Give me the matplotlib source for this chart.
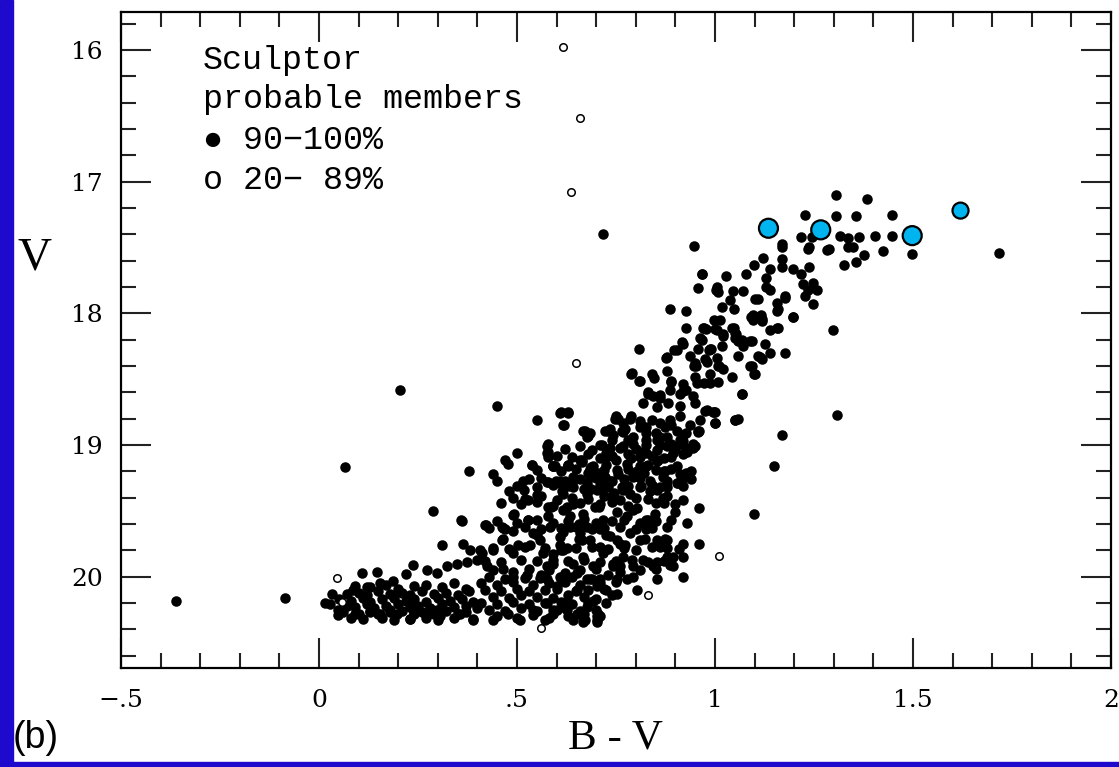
import numpy as np
import matplotlib
matplotlib.use("Agg")
import matplotlib.pyplot as plt
from matplotlib.patches import Rectangle
from matplotlib.ticker import MultipleLocator, FixedLocator, FixedFormatter

# Sculptor dSph colour-magnitude diagram, (B-V, V) pairs per region of the CMD

# bright tip of the giant branch
rgb_tip = [
    (1.306, 17.10), (1.385, 17.13), (1.227, 17.25), (1.306, 17.26), (1.356, 17.26),
    (1.446, 17.25), (1.216, 17.42), (1.244, 17.42), (1.316, 17.41), (1.337, 17.43),
    (1.364, 17.42), (1.404, 17.41), (1.446, 17.41), (1.168, 17.47), (1.168, 17.50),
    (1.238, 17.50), (1.288, 17.51), (1.337, 17.50), (1.349, 17.50), (1.376, 17.56),
    (1.423, 17.53), (1.497, 17.55), (1.716, 17.54), (1.327, 17.63), (1.356, 17.61),
    (1.120, 17.58), (1.098, 17.63), (1.139, 17.66), (1.168, 17.59), (1.168, 17.65),
    (1.198, 17.66), (1.216, 17.70), (1.238, 17.65), (1.235, 17.51), (1.284, 17.52),
]

# upper red giant branch
rgb_upper = [
    (1.128, 17.73), (1.130, 17.80), (1.139, 17.82), (1.177, 17.87), (1.223, 17.78),
    (1.248, 17.77), (1.236, 17.82), (1.257, 17.82), (1.227, 17.87), (1.248, 17.93),
    (1.101, 17.89), (1.109, 17.89), (1.156, 17.92), (1.156, 17.98), (1.097, 18.01),
    (1.118, 18.04), (1.118, 18.06), (1.198, 18.03), (1.139, 18.13), (1.156, 18.11),
    (1.297, 18.13), (1.093, 18.21), (1.126, 18.23), (1.139, 18.30), (1.177, 18.30),
    (1.109, 18.32), (1.118, 18.35), (1.093, 18.40), (1.101, 18.46), (1.078, 17.70),
    (1.027, 17.72), (0.968, 17.70), (0.958, 17.81), (1.006, 17.80), (1.008, 17.84),
    (1.046, 17.83), (1.071, 17.83), (1.038, 17.90), (1.017, 17.95), (1.013, 18.05),
    (1.048, 17.97), (1.097, 18.05), (0.886, 17.97), (0.927, 17.98), (0.927, 18.11),
    (0.970, 18.11), (0.977, 18.12), (1.004, 18.13), (1.021, 18.17), (1.042, 18.11),
    (1.050, 18.15), (1.050, 18.19), (1.059, 18.21), (1.088, 18.21), (1.071, 18.25),
    (0.809, 18.27), (0.878, 18.33), (0.903, 18.28), (0.920, 18.23), (0.937, 18.32),
    (0.958, 18.27), (0.987, 18.27), (0.949, 18.38), (0.975, 18.35), (1.004, 18.34),
    (1.008, 18.40), (1.021, 18.42), (1.059, 18.32), (1.088, 18.40), (1.098, 18.46),
    (0.789, 18.46), (0.840, 18.46), (0.846, 18.49), (0.880, 18.44), (0.987, 18.46),
    (1.042, 18.48), (1.003, 17.82), (0.971, 18.11), (1.000, 18.12), (0.916, 18.22),
    (0.962, 18.19), (0.991, 18.27), (0.875, 18.34), (0.897, 18.28), (0.790, 18.45),
    (0.947, 18.40), (1.092, 18.03), (1.115, 18.01), (1.067, 18.20), (1.054, 18.16),
    (1.019, 18.16), (0.966, 18.20), (0.985, 18.28), (1.017, 18.25), (0.979, 18.37),
    (1.011, 18.40), (0.953, 18.40), (1.049, 18.11), (0.997, 18.05), (1.176, 17.88),
    (1.160, 18.11), (1.196, 18.03), (1.158, 17.97), (1.113, 18.33),
]

# middle of the giant branch
rgb_mid = [
    (0.832, 18.61), (0.844, 18.63), (0.861, 18.62), (0.886, 18.58), (0.911, 18.61),
    (0.928, 18.58), (0.945, 18.63), (0.819, 18.68), (0.853, 18.71), (0.882, 18.68),
    (0.911, 18.70), (0.949, 18.68), (0.979, 18.73), (0.747, 18.80), (0.768, 18.83),
    (0.789, 18.78), (0.810, 18.82), (0.827, 18.86), (0.861, 18.83), (0.886, 18.81),
    (0.911, 18.78), (0.937, 18.85), (0.962, 18.81), (0.672, 18.89), (0.684, 18.91),
    (0.722, 18.89), (0.743, 18.92), (0.768, 18.90), (0.794, 18.94), (0.827, 18.91),
    (0.853, 18.96), (0.878, 18.94), (0.912, 18.96), (0.945, 18.99), (0.810, 18.51),
    (0.890, 18.52), (0.920, 18.54), (0.949, 18.48), (0.954, 18.53), (0.987, 18.53),
    (1.008, 18.52), (1.069, 18.61), (0.996, 18.75), (1.000, 18.83), (1.050, 18.81),
    (1.059, 18.80), (0.958, 18.90), (1.068, 18.61), (1.051, 18.81), (0.998, 18.75),
    (0.974, 18.74), (0.945, 19.02), (0.959, 18.89), (0.612, 18.75), (0.629, 18.75),
    (0.617, 18.85), (0.667, 18.89), (0.680, 18.93), (0.751, 18.78), (0.785, 18.80),
    (0.764, 18.89), (0.810, 18.86), (0.840, 18.81), (0.873, 18.86), (0.903, 18.89),
    (0.928, 18.91), (0.730, 18.89), (0.714, 19.00), (0.739, 18.96), (0.781, 18.96),
    (0.827, 18.96), (0.861, 18.94), (0.890, 18.99), (0.920, 18.97), (0.663, 19.11),
    (0.692, 19.16), (0.722, 19.09), (0.751, 19.11), (0.789, 19.10), (0.827, 19.06),
    (0.857, 19.11), (0.890, 19.09), (0.810, 19.16), (0.596, 19.16), (0.629, 19.16),
    (0.642, 19.24), (0.608, 19.29), (0.684, 19.24), (0.722, 19.24), (0.756, 19.22),
    (0.794, 19.24), (0.836, 19.27), (0.869, 19.24), (0.911, 19.22), (0.730, 19.32),
    (0.768, 19.34), (0.810, 19.32), (0.853, 19.34), (0.903, 19.29), (0.617, 19.37),
    (0.676, 19.37), (0.575, 19.01), (0.575, 19.06), (0.710, 19.00), (0.726, 19.06),
    (0.735, 19.02), (0.768, 19.01), (0.794, 18.99), (0.810, 19.05), (0.827, 19.00),
    (0.853, 19.04), (0.878, 19.01), (0.895, 19.06), (0.912, 18.99), (0.928, 19.02),
    (0.949, 19.01), (0.592, 19.16), (0.630, 19.15), (0.663, 19.13), (0.684, 19.18),
    (0.705, 19.21), (0.726, 19.15), (0.752, 19.19), (0.777, 19.14), (0.802, 19.20),
    (0.827, 19.16), (0.853, 19.12), (0.874, 19.20), (0.903, 19.16), (0.920, 19.23),
    (0.928, 19.21), (0.575, 19.28), (0.613, 19.35), (0.642, 19.32), (0.676, 19.29),
    (0.701, 19.34), (0.718, 19.29), (0.739, 19.39), (0.764, 19.32), (0.785, 19.37),
    (0.836, 19.35), (0.861, 19.32), (0.869, 19.40), (0.907, 19.29), (0.550, 18.81),
    (0.609, 18.76), (0.630, 18.76), (0.619, 18.85), (0.672, 18.90), (0.676, 18.94),
    (0.579, 18.99), (0.579, 19.05), (0.499, 19.06), (0.470, 19.11), (0.478, 19.14),
    (0.440, 19.22), (0.450, 19.27), (0.537, 19.15), (0.592, 19.16), (0.516, 19.27),
    (0.518, 19.34), (0.481, 19.35), (0.550, 19.38), (0.579, 19.28), (0.609, 19.27),
    (0.659, 19.11), (0.714, 19.34), (0.735, 19.27), (0.539, 19.15), (0.578, 19.09),
    (0.590, 19.16), (0.628, 19.15), (0.686, 19.17), (0.725, 19.09), (0.793, 19.23),
    (0.831, 19.15), (0.870, 19.20), (0.918, 19.25), (0.599, 19.27), (0.638, 19.28),
    (0.686, 19.33), (0.744, 19.36), (0.812, 19.31), (0.754, 18.80), (0.735, 18.88),
    (0.773, 18.88), (0.812, 18.85), (0.851, 18.91), (0.889, 18.85), (0.918, 18.92),
    (0.957, 18.89), (1.000, 18.83), (0.831, 18.60), (0.860, 18.64), (0.918, 18.59),
    (0.971, 18.53), (1.000, 18.75), (0.807, 18.51), (0.889, 18.51),
    (0.62, 19.03), (0.66, 19.01), (0.69, 19.04), (0.76, 19.02), (0.80, 19.03),
    (0.86, 19.00), (0.90, 19.03), (0.93, 19.05), (0.60, 19.08), (0.64, 19.09),
    (0.68, 19.07), (0.71, 19.10), (0.74, 19.08), (0.78, 19.07), (0.81, 19.09),
    (0.84, 19.08), (0.87, 19.10), (0.92, 19.07), (0.55, 19.19), (0.61, 19.20),
    (0.65, 19.18), (0.68, 19.21), (0.72, 19.19), (0.78, 19.18), (0.82, 19.21),
    (0.85, 19.19), (0.89, 19.18), (0.94, 19.20), (0.53, 19.26), (0.56, 19.25),
    (0.62, 19.27), (0.66, 19.26), (0.70, 19.25), (0.74, 19.27), (0.77, 19.26),
    (0.81, 19.25), (0.88, 19.27), (0.94, 19.26), (0.50, 19.31), (0.55, 19.32),
    (0.59, 19.30), (0.63, 19.31), (0.67, 19.33), (0.71, 19.30), (0.78, 19.31),
    (0.84, 19.30), (0.88, 19.32), (0.92, 19.31),
]

# lower giant branch and subgiants
rgb_lower = [
    (0.529, 19.42), (0.579, 19.47), (0.579, 19.54), (0.625, 19.47), (0.634, 19.54),
    (0.491, 19.53), (0.529, 19.57), (0.419, 19.61), (0.360, 19.58), (0.461, 19.62),
    (0.491, 19.65), (0.541, 19.67), (0.583, 19.62), (0.617, 19.66), (0.676, 19.62),
    (0.310, 19.76), (0.364, 19.75), (0.381, 19.80), (0.411, 19.82), (0.440, 19.80),
    (0.461, 19.72), (0.491, 19.82), (0.533, 19.76), (0.558, 19.72), (0.592, 19.83),
    (0.625, 19.78), (0.663, 19.72), (0.710, 19.77), (0.752, 19.72), (0.899, 19.51),
    (0.960, 19.48), (0.959, 19.75), (0.920, 19.75), (0.918, 20.00), (0.895, 19.85),
    (0.886, 19.91), (0.861, 19.77), (0.878, 19.72), (0.853, 19.89), (0.794, 19.92),
    (0.794, 20.00), (0.760, 19.92), (0.617, 19.49), (0.642, 19.45), (0.667, 19.52),
    (0.697, 19.47), (0.718, 19.57), (0.752, 19.51), (0.777, 19.54), (0.802, 19.48),
    (0.827, 19.57), (0.848, 19.52), (0.608, 19.70), (0.634, 19.62), (0.659, 19.67),
    (0.684, 19.72), (0.710, 19.64), (0.735, 19.69), (0.760, 19.75), (0.785, 19.67),
    (0.810, 19.72), (0.827, 19.64), (0.853, 19.72), (0.874, 19.71), (0.920, 19.85),
    (0.895, 19.92), (0.878, 19.85), (0.566, 19.82), (0.592, 19.87), (0.617, 19.80),
    (0.642, 19.90), (0.667, 19.85), (0.693, 19.92), (0.718, 19.82), (0.743, 19.90),
    (0.768, 19.85), (0.819, 19.87), (0.844, 19.92), (0.493, 19.52), (0.527, 19.57),
    (0.585, 19.47), (0.657, 19.60), (0.706, 19.47), (0.793, 19.49), (0.831, 19.57),
    (0.870, 19.44), (0.358, 19.57), (0.421, 19.61), (0.464, 19.63), (0.406, 19.80),
    (0.464, 19.71), (0.503, 19.76), (0.551, 19.68), (0.609, 19.76), (0.657, 19.71),
    (0.725, 19.68), (0.773, 19.76), (0.822, 19.71), (0.238, 19.91), (0.272, 19.95),
    (0.322, 19.92), (0.348, 19.90), (0.373, 19.89), (0.398, 19.87), (0.423, 19.92),
    (0.465, 19.94), (0.524, 19.99), (0.575, 19.92), (0.651, 19.97), (0.743, 19.92),
    (0.108, 19.97), (0.147, 19.96), (0.220, 19.98),
    (0.49, 19.40), (0.52, 19.41), (0.56, 19.39), (0.60, 19.42), (0.64, 19.40),
    (0.68, 19.41), (0.72, 19.39), (0.76, 19.42), (0.80, 19.40), (0.83, 19.41),
    (0.88, 19.39), (0.92, 19.42), (0.46, 19.44), (0.51, 19.45), (0.55, 19.43),
    (0.59, 19.46), (0.66, 19.44), (0.71, 19.45), (0.74, 19.43), (0.78, 19.46),
    (0.85, 19.44), (0.90, 19.45), (0.45, 19.58), (0.50, 19.59), (0.55, 19.57),
    (0.59, 19.59), (0.63, 19.58), (0.67, 19.56), (0.70, 19.59), (0.74, 19.58),
    (0.77, 19.57), (0.81, 19.59), (0.85, 19.58), (0.89, 19.57), (0.93, 19.59),
    (0.43, 19.63), (0.47, 19.64), (0.52, 19.62), (0.56, 19.64), (0.61, 19.63),
    (0.65, 19.62), (0.69, 19.64), (0.72, 19.63), (0.76, 19.62), (0.80, 19.64),
    (0.84, 19.63), (0.88, 19.62), (0.44, 19.78), (0.48, 19.79), (0.52, 19.77),
    (0.57, 19.78), (0.61, 19.80), (0.65, 19.78), (0.69, 19.77), (0.73, 19.79),
    (0.77, 19.78), (0.80, 19.80), (0.84, 19.77), (0.88, 19.78), (0.91, 19.79),
    (0.42, 19.88), (0.46, 19.89), (0.51, 19.87), (0.55, 19.88), (0.59, 19.90),
    (0.63, 19.88), (0.67, 19.87), (0.71, 19.89), (0.75, 19.88), (0.79, 19.87),
    (0.83, 19.89), (0.87, 19.88), (0.44, 19.95), (0.49, 19.96), (0.53, 19.94),
    (0.58, 19.95), (0.62, 19.97), (0.66, 19.95), (0.70, 19.94), (0.76, 19.96),
    (0.81, 19.95), (0.85, 19.94),
]

# horizontal branch plus base of the giant branch
hb = [
    (0.015, 20.20), (0.032, 20.13), (0.028, 20.21), (0.049, 20.25), (0.049, 20.29),
    (0.087, 20.10), (0.120, 20.08), (0.154, 20.05), (0.188, 20.03), (0.297, 19.97),
    (0.09, 20.07), (0.13, 20.08), (0.17, 20.06), (0.20, 20.09), (0.24, 20.07),
    (0.27, 20.06), (0.31, 20.08), (0.34, 20.05), (0.37, 20.09),
    (0.07, 20.13), (0.10, 20.12), (0.12, 20.14), (0.15, 20.11), (0.18, 20.13),
    (0.21, 20.12), (0.23, 20.14), (0.26, 20.11), (0.29, 20.13), (0.32, 20.12),
    (0.35, 20.14), (0.38, 20.11),
    (0.05, 20.17), (0.08, 20.18), (0.11, 20.16), (0.13, 20.19), (0.16, 20.17),
    (0.19, 20.16), (0.22, 20.18), (0.24, 20.17), (0.27, 20.19), (0.30, 20.16),
    (0.33, 20.18), (0.36, 20.17), (0.39, 20.19),
    (0.07, 20.22), (0.09, 20.23), (0.12, 20.21), (0.14, 20.24), (0.17, 20.22),
    (0.20, 20.21), (0.23, 20.23), (0.25, 20.22), (0.28, 20.24), (0.31, 20.21),
    (0.34, 20.23), (0.37, 20.22), (0.40, 20.24),
    (0.06, 20.27), (0.10, 20.28), (0.13, 20.26), (0.15, 20.28), (0.18, 20.27),
    (0.21, 20.26), (0.24, 20.28), (0.26, 20.27), (0.29, 20.28), (0.32, 20.26),
    (0.35, 20.28), (0.37, 20.27),
    (0.08, 20.31), (0.11, 20.32), (0.16, 20.31), (0.19, 20.33), (0.23, 20.32),
    (0.27, 20.31), (0.30, 20.33), (0.34, 20.31), (0.39, 20.33),
    (0.43, 20.00), (0.47, 20.02), (0.52, 20.01), (0.56, 19.99), (0.61, 20.01),
    (0.64, 20.00), (0.69, 20.02), (0.73, 19.99),
    (0.41, 20.05), (0.45, 20.06), (0.49, 20.04), (0.54, 20.06), (0.58, 20.05),
    (0.62, 20.04), (0.66, 20.06), (0.71, 20.05), (0.75, 20.04),
    (0.42, 20.10), (0.46, 20.11), (0.50, 20.09), (0.53, 20.11), (0.57, 20.10),
    (0.60, 20.09), (0.65, 20.11), (0.68, 20.10), (0.72, 20.09),
    (0.44, 20.15), (0.48, 20.16), (0.51, 20.14), (0.55, 20.15), (0.59, 20.16),
    (0.63, 20.14), (0.67, 20.15), (0.70, 20.17), (0.74, 20.14),
    (0.41, 20.20), (0.45, 20.21), (0.49, 20.19), (0.53, 20.21), (0.57, 20.20),
    (0.61, 20.19), (0.64, 20.21), (0.68, 20.20),
    (0.43, 20.25), (0.47, 20.26), (0.51, 20.24), (0.55, 20.26), (0.59, 20.25),
    (0.62, 20.24), (0.66, 20.26), (0.70, 20.25),
    (0.45, 20.30), (0.50, 20.31), (0.54, 20.29), (0.58, 20.31), (0.63, 20.30),
    (0.67, 20.32), (0.71, 20.30),
    (0.491, 20.00), (0.558, 20.01), (0.609, 20.00), (0.684, 20.02), (0.710, 20.02),
    (0.752, 20.02), (0.726, 20.10), (0.693, 20.18), (0.705, 20.28), (0.701, 20.33),
    (0.668, 20.28), (0.672, 20.33), (0.625, 20.25), (0.642, 20.33), (0.592, 20.28),
    (0.571, 20.33), (0.541, 20.25), (0.508, 20.33), (0.478, 20.28), (0.440, 20.33),
    (0.390, 20.32), (0.356, 20.28), (0.306, 20.30), (0.297, 20.25), (0.272, 20.28),
    (0.238, 20.25), (0.230, 20.32), (0.196, 20.28), (0.179, 20.25), (0.154, 20.28),
    (0.129, 20.27), (0.091, 20.28), (0.575, 20.02), (0.600, 20.07), (0.625, 20.00),
    (0.651, 20.10), (0.676, 20.02), (0.701, 20.07), (0.752, 20.13), (0.777, 20.02),
    (0.802, 20.10), (0.853, 20.02), (0.575, 20.20), (0.600, 20.25), (0.625, 20.18),
    (0.651, 20.28), (0.676, 20.23), (0.701, 20.30), (0.726, 20.20), (0.667, 20.34),
    (0.701, 20.34),
]

# isolated filled points away from the main sequences
field = [
    (-0.36, 20.18), (-0.086, 20.16), (0.066, 19.17), (0.205, 18.58), (0.449, 18.70),
    (0.379, 19.20), (0.289, 19.50), (0.717, 17.40), (0.946, 17.49), (0.967, 17.70),
    (1.309, 18.77), (1.168, 18.92), (1.150, 19.16), (1.099, 19.52),
]

# 20-89 % membership probability
possible_bv = [0.616, 0.659, 0.636, 0.649, 1.009, 0.045, 0.057, 0.560, 0.830]
possible_v = [15.98, 16.52, 17.08, 18.38, 19.84, 20.01, 20.19, 20.39, 20.14]

# stars marked in colour
marked_bv = [1.135, 1.267, 1.498, 1.620]
marked_v = [17.354, 17.366, 17.41, 17.22]
marked_px = [19, 19, 19, 16]

members = np.array(rgb_tip + rgb_upper + rgb_mid + rgb_lower + hb + field)

px = 72 / 100  # points per pixel at dpi 100
mono = ["Liberation Mono", "DejaVu Sans"]

fig = plt.figure(figsize=(11.19, 7.67), dpi=100)
fig.patch.set_facecolor("white")
ax = fig.add_axes([121 / 1119, 1 - 667.7 / 767, 990 / 1119, 656 / 767])

ax.scatter(members[:, 0], members[:, 1], s=(10.5 * px) ** 2, c="black",
           linewidths=0, zorder=2)
ax.scatter(possible_bv, possible_v, s=(7.5 * px) ** 2, facecolors="white",
           edgecolors="black", linewidths=1.1, zorder=3)
ax.scatter(marked_bv, marked_v, s=(np.array(marked_px) * px) ** 2, c="#00b4f0",
           edgecolors="black", linewidths=1.6, zorder=4)

ax.set_xlim(-0.5, 2.0)
ax.set_ylim(20.69, 15.71)

ax.xaxis.set_major_locator(FixedLocator([-0.5, 0, 0.5, 1, 1.5, 2]))
ax.xaxis.set_major_formatter(FixedFormatter(["\u2212.5", "0", ".5", "1", "1.5", "2"]))
ax.xaxis.set_minor_locator(MultipleLocator(0.1))
ax.yaxis.set_major_locator(FixedLocator([16, 17, 18, 19, 20]))
ax.yaxis.set_minor_locator(MultipleLocator(0.2))

ax.tick_params(which="both", direction="in", top=True, right=True, width=1.5,
               color="#222222")
ax.tick_params(which="major", length=30 * px, labelsize=18)
ax.tick_params(which="minor", length=15 * px)
ax.tick_params(axis="x", pad=15)
ax.tick_params(axis="y", pad=13)
for lab in ax.get_xticklabels() + ax.get_yticklabels():
    lab.set_family("DejaVu Serif")
for sp in ax.spines.values():
    sp.set_linewidth(1.6)

legend_lines = ["Sculptor", "probable members", "\u25cf 90\u2212100%", "o 20\u2212 89%"]
legend_y = [0.925, 0.866, 0.803, 0.742]
for line, y in zip(legend_lines, legend_y):
    ax.text(0.083, y, line, transform=ax.transAxes, family=mono, fontsize=24,
            va="center")

fig.text(35 / 1119, 1 - 258 / 767, "V", family="Liberation Serif", fontsize=34,
         ha="center", va="center")
fig.text(615 / 1119, 1 - 738 / 767, "B - V", family="Liberation Serif", fontsize=31,
         ha="center", va="center")
fig.text(13 / 1119, 1 - 738 / 767, "(b)", family="Liberation Sans", fontsize=27,
         ha="left", va="center")

# slide frame
fig.patches.append(Rectangle((0, 0), 13 / 1119, 1, transform=fig.transFigure,
                             color="#1e0acd", zorder=0))
fig.patches.append(Rectangle((0, 0), 1, 5.5 / 767, transform=fig.transFigure,
                             color="#1e0acd", zorder=0))

fig.savefig("out.png", dpi=100)
